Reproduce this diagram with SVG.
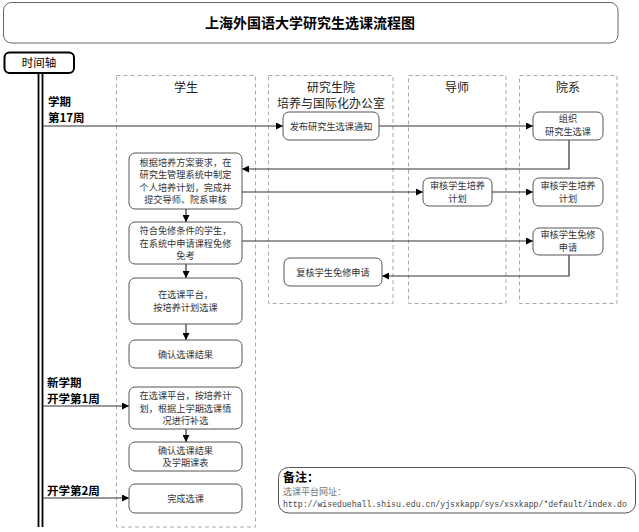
<svg xmlns="http://www.w3.org/2000/svg" width="639" height="532" viewBox="0 0 639 532">
<defs>
<marker id="arr" viewBox="0 0 10 10" refX="10" refY="5" markerWidth="7" markerHeight="7" markerUnits="userSpaceOnUse" orient="auto">
<path d="M0,0 L10,5 L0,10 z" fill="#000"/>
</marker>
</defs>
<style>
text{font-family:"Noto Sans CJK SC","Noto Sans",sans-serif;fill:#333}
.lane{fill:none;stroke:#aaa;stroke-width:1;stroke-dasharray:4 3}
.hd{font-size:12px;text-anchor:middle;fill:#222}
.nd{fill:#fff;stroke:#555;stroke-width:1}
.nt{font-size:9.2px;text-anchor:middle}
.tl{font-size:11.5px;font-weight:bold;fill:#000}
.ca{fill:none;stroke:#333;stroke-width:1.2;marker-end:url(#arr)}
</style>
<rect width="639" height="532" fill="#fff"/>
<g id="title">
<rect x="3.5" y="2.5" width="614.5" height="40.5" rx="8" fill="#fff" stroke="#666" stroke-width="1"/>
<text x="310" y="28" style="font-size:14px;font-weight:bold;text-anchor:middle;fill:#000">上海外国语大学研究生选课流程图</text>
</g>
<g id="lanes">
<rect class="lane" x="116.5" y="75.5" width="139" height="451.5"/>
<rect class="lane" x="268.5" y="75.5" width="124.5" height="228"/>
<rect class="lane" x="408.5" y="75.5" width="97.5" height="228"/>
<rect class="lane" x="519.5" y="75.5" width="97.5" height="228"/>
<text class="hd" x="186" y="92">学生</text>
<text class="hd" x="331" y="92"><tspan x="331">研究生院</tspan><tspan x="331" dy="16">培养与国际化办公室</tspan></text>
<text class="hd" x="457" y="92">导师</text>
<text class="hd" x="568" y="92">院系</text>
</g>
<g id="timeline">
<line x1="38.5" y1="73" x2="38.5" y2="527" stroke="#000" stroke-width="1.8"/>
<line x1="42.5" y1="73" x2="42.5" y2="527" stroke="#000" stroke-width="1.8"/>
<rect x="4.5" y="52.5" width="69.5" height="20.5" rx="5" fill="#fff" stroke="#000" stroke-width="2"/>
<text x="39" y="67" style="font-size:11.5px;text-anchor:middle;fill:#000">时间轴</text>
<text class="tl" x="48" y="106"><tspan x="48">学期</tspan><tspan x="48" dy="16">第17周</tspan></text>
<text class="tl" x="47" y="387"><tspan x="47">新学期</tspan><tspan x="47" dy="16">开学第1周</tspan></text>
<text class="tl" x="47" y="495">开学第2周</text>
</g>
<g id="connectors">
<line class="ca" x1="43" y1="126" x2="283" y2="126"/>
<line class="ca" x1="379" y1="126" x2="533" y2="126"/>
<polyline class="ca" points="569,140 569,169 242,169"/>
<line class="ca" x1="242" y1="192" x2="423" y2="192"/>
<line class="ca" x1="492" y1="192" x2="533" y2="192"/>
<line class="ca" x1="186" y1="209" x2="186" y2="222"/>
<line class="ca" x1="242" y1="241" x2="533" y2="241"/>
<polyline class="ca" points="569,255 569,276 382,276"/>
<line class="ca" x1="186" y1="264" x2="186" y2="278"/>
<line class="ca" x1="186" y1="324" x2="186" y2="340"/>
<line class="ca" x1="43" y1="406" x2="129" y2="406"/>
<line class="ca" x1="186" y1="429" x2="186" y2="442"/>
<line class="ca" x1="43" y1="498" x2="129" y2="498"/>
</g>
<g id="n_publish">
<rect class="nd" x="283" y="112" width="96" height="28" rx="6"/>
<text class="nt" x="331" y="129.5">发布研究生选课通知</text>
</g>
<g id="n_organize">
<rect class="nd" x="533" y="112" width="70" height="28" rx="6"/>
<text class="nt" x="568" y="122"><tspan x="568">组织</tspan><tspan x="568" dy="13">研究生选课</tspan></text>
</g>
<g id="n_plan">
<rect class="nd" x="129" y="153" width="113" height="56" rx="6"/>
<text class="nt" x="185.5" y="166.2"><tspan x="185.5">根据培养方案要求，在</tspan><tspan x="185.5" dy="12.2">研究生管理系统中制定</tspan><tspan x="185.5" dy="12.2">个人培养计划，完成并</tspan><tspan x="185.5" dy="12.2">提交导师、院系审核</tspan></text>
</g>
<g id="n_tutor_review">
<rect class="nd" x="423" y="178" width="69" height="28" rx="6"/>
<text class="nt" x="457.5" y="189"><tspan x="457.5">审核学生培养</tspan><tspan x="457.5" dy="13">计划</tspan></text>
</g>
<g id="n_dept_review">
<rect class="nd" x="533" y="178" width="70" height="28" rx="6"/>
<text class="nt" x="568" y="189"><tspan x="568">审核学生培养</tspan><tspan x="568" dy="13">计划</tspan></text>
</g>
<g id="n_exempt">
<rect class="nd" x="129" y="222" width="113" height="42" rx="6"/>
<text class="nt" x="185.5" y="234.3"><tspan x="185.5">符合免修条件的学生，</tspan><tspan x="185.5" dy="12.2">在系统中申请课程免修</tspan><tspan x="185.5" dy="12.2">免考</tspan></text>
</g>
<g id="n_dept_exempt">
<rect class="nd" x="533" y="228" width="70" height="27" rx="6"/>
<text class="nt" x="568" y="237.5"><tspan x="568">审核学生免修</tspan><tspan x="568" dy="13">申请</tspan></text>
</g>
<g id="n_recheck">
<rect class="nd" x="284" y="258" width="98" height="28" rx="6"/>
<text class="nt" x="333" y="275.5">复核学生免修申请</text>
</g>
<g id="n_select">
<rect class="nd" x="129" y="278" width="113" height="46" rx="6"/>
<text class="nt" x="185.5" y="298.4"><tspan x="185.5">在选课平台，</tspan><tspan x="185.5" dy="12.4">按培养计划选课</tspan></text>
</g>
<g id="n_confirm">
<rect class="nd" x="129" y="340" width="113" height="28" rx="6"/>
<text class="nt" x="185.5" y="357.5">确认选课结果</text>
</g>
<g id="n_supplement">
<rect class="nd" x="129" y="387" width="113" height="42" rx="6"/>
<text class="nt" x="185.5" y="399.3"><tspan x="185.5">在选课平台，按培养计</tspan><tspan x="185.5" dy="12.2">划，根据上学期选课情</tspan><tspan x="185.5" dy="12.2">况进行补选</tspan></text>
</g>
<g id="n_confirm2">
<rect class="nd" x="129" y="442" width="113" height="29" rx="6"/>
<text class="nt" x="185.5" y="453.5"><tspan x="185.5">确认选课结果</tspan><tspan x="185.5" dy="12.5">及学期课表</tspan></text>
</g>
<g id="n_done">
<rect class="nd" x="129" y="484" width="113" height="29" rx="6"/>
<text class="nt" x="185.5" y="502">完成选课</text>
</g>
<g id="note">
<rect x="278.5" y="467.5" width="357" height="45.5" rx="10" fill="#fff" stroke="#555" stroke-width="1"/>
<text x="283" y="482" style="font-size:12px;font-weight:bold;fill:#000">备注：</text>
<text x="283" y="495" style="font-size:9px;fill:#777">选课平台网址：</text>
<text x="283" y="507" style="font-family:'Liberation Mono',monospace;font-size:8.2px;fill:#444">http://wiseduehall.shisu.edu.cn/yjsxkapp/sys/xsxkapp/*default/index.do</text>
</g>
</svg>
